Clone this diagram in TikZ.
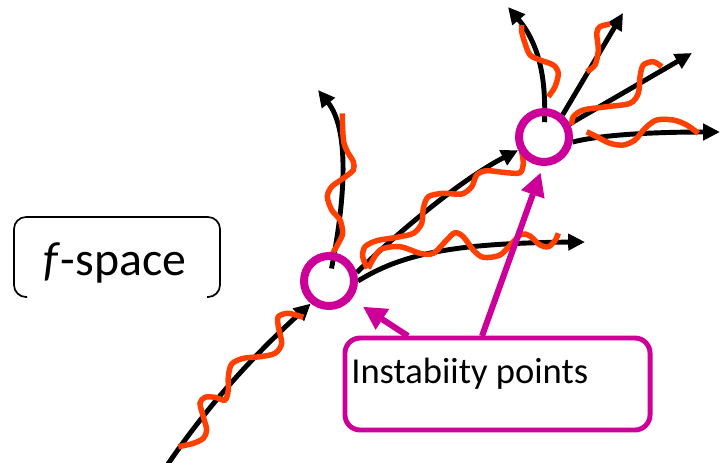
\documentclass[tikz,border=0pt]{standalone}
\usepackage{fontspec}
\setmainfont{Carlito}
\usetikzlibrary{arrows.meta, backgrounds}
\definecolor{waveRed}{RGB}{255,64,0}
\definecolor{instMagenta}{RGB}{204,0,153}

\begin{document}
\begin{tikzpicture}[
  x=0.025cm, y=-0.025cm,
  blackArr/.style={-{Triangle[length=4.2mm, width=4mm]}, line width=3.5pt, draw=black},
  waveLine/.style={draw=waveRed, line width=3.9pt},
  ring/.style={circle, draw=instMagenta, line width=5.7pt, minimum size=1.25cm, inner sep=0pt},
  magArr/.style={-{Triangle[length=5.8mm, width=5.8mm]}, line width=4.3pt, draw=instMagenta},
  magBox/.style={rectangle, rounded corners=0.38cm, draw=instMagenta, line width=3.5pt,
                 minimum width=7.625cm, minimum height=2.3cm},
  spaceFrame/.style={draw=black, line width=1.2pt, rounded corners=0.3cm}
]
\path[use as bounding box] (0,0) rectangle (720,462);

% instability points
\node[ring] (c1) at (329,281) {};
\node[ring] (c2) at (544,137) {};

% free ends of the trajectories
\coordinate (trunkStart) at (168,464);
\coordinate (tipUp) at (318,90);
\coordinate (tipRight) at (585,242);
\coordinate (tipUpLeft) at (508,7);
\coordinate (tipUpRight) at (623,13);
\coordinate (tipRightUp) at (692,53);
\coordinate (tipFar) at (720,132);

\begin{scope}[on background layer]
\fill[white] (0,0) rectangle (720,462);
% black trajectories
\draw[blackArr] (trunkStart) .. controls (215,395) and (265,345) .. (c1.-129);
\draw[blackArr, shorten <=3.2mm] (c1.center) .. controls (345,200) and (350,130) .. (tipUp);
\draw[blackArr] (c1.0) .. controls (400,255) and (450,243) .. (tipRight);
\draw[blackArr] (c1.17) .. controls (395,235) and (460,180) .. (c2.207);
\draw[blackArr, shorten <=3.7mm] (c2.center) .. controls (546,80) and (540,45) .. (tipUpLeft);
\draw[blackArr] (c2.50) -- (tipUpRight);
\draw[blackArr] (c2.27) -- (tipRightUp);
\draw[blackArr] (c2.-10) .. controls (600,135) and (650,132) .. (tipFar);

% red fluctuations
\draw[waveLine] plot[smooth] coordinates {(178.3,446.7) (193.3,443.3) (203.3,438.3) (206.7,430) (203.3,416.7)
  (200,403.3) (205,397.3) (215,397.3) (225,400) (228.3,390) (228.3,376.7) (231.7,364) (243.3,358.3)
  (260,356.7) (275,353.3) (281.7,343.3) (278.3,326.7) (278.3,316.7) (288.3,313.3) (303.3,317.3)};
\draw[waveLine] plot[smooth] coordinates {(331.7,255) (338.3,243.3) (342.7,233.3) (340,220) (331.7,210)
  (327.3,196.7) (331.7,186.7) (343.3,178.3) (353.3,170) (353.3,161.7) (348.3,153.3) (344,143.3)
  (342.7,130) (342.3,113.3)};
\draw[waveLine] plot[smooth] coordinates {(367.3,268.3) (362.7,256.7) (365,246.7) (376.7,240.7) (396.7,237.3)
  (413.3,233.3) (421.7,223.3) (423.3,208.3) (428.3,196.7) (443.3,193.3) (461.7,194) (471.7,186.7)
  (476.7,175) (486.7,170.7) (506.7,172.7) (520,172.7) (523.3,163.3) (521.7,151.7)};
\draw[waveLine] plot[smooth] coordinates {(368.3,268.3) (380,250) (400,246.7) (420,253.3) (433.3,253.3)
  (446.7,240) (455,232.7) (463.3,236.7) (473.3,250) (483.3,257.3) (500,255) (513.3,241.7) (521.7,234)
  (530,236) (540,245) (548.3,246.7) (555,240.7) (558.3,233.3)};
\draw[waveLine] plot[smooth] coordinates {(548.3,96.7) (555,86.7) (558.3,73.3) (553.3,65) (540,60)
  (530,55) (525,43.3) (521.7,31.7) (521.7,25)};
\draw[waveLine] plot[smooth] coordinates {(586.7,71.7) (595,65) (598.3,50) (596.7,33.3) (600,26.7) (610,24)};
\draw[waveLine] plot[smooth] coordinates {(571.7,125) (573.3,116.7) (583.3,110) (606.7,106.7) (630,103.3)
  (638.3,93.3) (640,76.7) (643.3,65) (653.3,61.7) (661.7,66.7)};
\draw[waveLine] plot[smooth] coordinates {(586.7,131.7) (596.7,136.7) (610,143.3) (623.3,145) (635,140)
  (645,128.3) (656.7,120) (673.3,120) (686.7,125) (698.3,133.3)};
\end{scope}

% f-space label
\draw[spaceFrame] (27,297) -- (14,297) -- (14,217) -- (220,217) -- (220,297) -- (207,297);
\node[font=\fontsize{34}{40}\selectfont, anchor=base, inner sep=0pt] (fspace) at (115,275) {\textit{f}-space};

% callout
\node[magBox] (instab) at (497.5,384) {};
\node[font=\fontsize{26}{30}\selectfont, anchor=base west, inner sep=0pt] (instabLabel) at (351,383) {Instabiity points};
\coordinate (calloutA) at (408,336);
\coordinate (calloutB) at (482,336);
\draw[magArr, shorten >=3.4mm] (calloutA) -- (c1.-39);
\draw[magArr, shorten >=1.75mm] (calloutB) -- (c2.-92);
\end{tikzpicture}
\end{document}
